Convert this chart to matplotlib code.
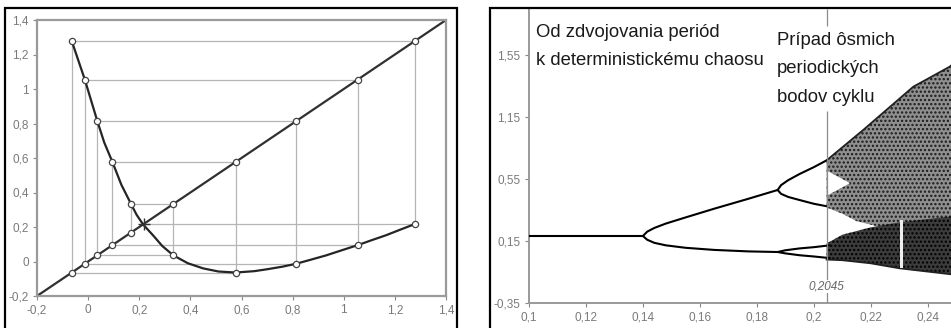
import matplotlib
matplotlib.use("Agg")
import matplotlib.pyplot as plt
from matplotlib.patches import Rectangle

# ---------------- data: left panel (cobweb) ----------------
# orbit of the map
orbit = [0.168, 0.333, 0.036, 0.814, -0.013, 1.055, 0.095, 0.577, -0.064, 1.278, 0.217]
# the map curve (markers + extra points)
curve_x = [-0.064, -0.013, 0.036, 0.063, 0.095, 0.13, 0.168, 0.19, 0.215, 0.255, 0.29, 0.333,
           0.39, 0.45, 0.51, 0.577, 0.65, 0.70, 0.76, 0.814, 0.87, 0.93, 0.99, 1.055, 1.11,
           1.165, 1.22, 1.278]
curve_y = [1.278, 1.055, 0.814, 0.69, 0.577, 0.445, 0.333, 0.27, 0.215, 0.15, 0.09, 0.036,
           -0.01, -0.04, -0.058, -0.064, -0.056, -0.045, -0.03, -0.013, 0.01, 0.035, 0.064,
           0.095, 0.124, 0.152, 0.184, 0.217]
diag = [-0.2, 1.4]
left_ticks = [-0.2, 0, 0.2, 0.4, 0.6, 0.8, 1.0, 1.2, 1.4]
left_labels = ['-0,2', '0', '0,2', '0,4', '0,6', '0,8', '1', '1,2', '1,4']

# ---------------- data: right panel (bifurcation) ----------------
right_xticks = [0.10, 0.12, 0.14, 0.16, 0.18, 0.20, 0.22, 0.24]
right_xlabels = ['0,1', '0,12', '0,14', '0,16', '0,18', '0,2', '0,22', '0,24']
right_yticks = [-0.35, 0.15, 0.65, 1.15, 1.65]
right_ylabels = ['-0,35', '0,15', '0,55', '1,15', '1,55']

branches = [
    ([0.100, 0.140], [0.19, 0.19]),
    ([0.140, 0.1415, 0.144, 0.148, 0.155, 0.165, 0.177, 0.1873],
     [0.19, 0.225, 0.255, 0.29, 0.34, 0.41, 0.49, 0.561]),
    ([0.140, 0.1415, 0.144, 0.148, 0.155, 0.165, 0.177, 0.1873],
     [0.19, 0.16, 0.135, 0.115, 0.095, 0.078, 0.066, 0.061]),
    ([0.1873, 0.1885, 0.191, 0.195, 0.200, 0.2045], [0.561, 0.60, 0.64, 0.69, 0.745, 0.80]),
    ([0.1873, 0.1885, 0.191, 0.195, 0.200, 0.2045], [0.561, 0.53, 0.505, 0.48, 0.45, 0.43]),
    ([0.1873, 0.190, 0.195, 0.200, 0.2056], [0.061, 0.075, 0.09, 0.10, 0.115]),
    ([0.1873, 0.190, 0.195, 0.200, 0.2056], [0.061, 0.05, 0.035, 0.025, 0.012]),
]
# chaotic area outlines
chaos_top_x = [0.2045, 0.2173, 0.2349, 0.2477, 0.26]
chaos_top_y = [0.80, 1.044, 1.393, 1.555, 1.78]
upper_band_bottom_x = [0.2045, 0.210, 0.215, 0.222, 0.26]
upper_band_bottom_y = [0.42, 0.37, 0.31, 0.27, 0.24]
dark_band_x = [0.2045, 0.210, 0.220, 0.230, 0.26]
dark_band_top = [0.13, 0.20, 0.26, 0.30, 0.38]
dark_band_bottom = [0.0, -0.005, -0.03, -0.07, -0.15]
gap_x = [0.2045, 0.2125]
gap_top = [0.72, 0.62]
gap_bottom = [0.52, 0.62]
window_x = [0.2303, 0.2312]
window_y = [-0.07, 0.32]
x_mark = 0.2045
title_lines = ['Od zdvojovania periód', 'k deterministickému chaosu']
title_y = [1.834, 1.608]
note_lines = ['Prípad ôsmich', 'periodických', 'bodov cyklu']
note_y = [1.77, 1.544, 1.31]

W, H = 951, 328
fig = plt.figure(figsize=(W / 100, H / 100), dpi=100)
fig.patch.set_facecolor('white')

tick_font = ['Liberation Sans Narrow', 'Liberation Sans', 'DejaVu Sans']
text_font = ['Liberation Sans', 'DejaVu Sans']
grey = '#7a7a7a'

# black frames around both pictures
fig.patches.append(Rectangle((5 / W, -0.1), 452 / W, 1.1 - 8 / H, transform=fig.transFigure,
                             fill=False, edgecolor='black', lw=1.6))
fig.patches.append(Rectangle((490 / W, -0.1), 0.6, 1.1 - 8 / H, transform=fig.transFigure,
                             fill=False, edgecolor='black', lw=1.6))

# ---- left: cobweb ----
ax1 = fig.add_axes([37 / W, 32 / H, 409 / W, 276 / H])
cx, cy = [orbit[0]], [orbit[0]]
for a, b in zip(orbit[:-1], orbit[1:]):
    cx += [a, b]
    cy += [b, b]
ax1.plot(cx, cy, color='#b5b5b5', lw=0.9, zorder=1)
ax1.plot(diag, diag, color='#303030', lw=1.6, zorder=2)
ax1.plot(curve_x, curve_y, color='#252525', lw=1.6, zorder=2)
ax1.plot(orbit[:-1], orbit[1:], 'o', ms=4.5, mfc='white', mec='#444444', mew=0.9, zorder=3)
ax1.plot(orbit[:-1], orbit[:-1], 'o', ms=4.5, mfc='white', mec='#444444', mew=0.9, zorder=3)
ax1.plot([orbit[-1]], [orbit[-1]], '+', ms=8, color='#333333', mew=1.0, zorder=3)
ax1.set_xlim(-0.2, 1.4)
ax1.set_ylim(-0.2, 1.4)
ax1.set_xticks(left_ticks)
ax1.set_xticklabels(left_labels)
ax1.set_yticks(left_ticks)
ax1.set_yticklabels(left_labels)
for s in ax1.spines.values():
    s.set_color('#9a9a9a')
    s.set_linewidth(1.6)

# ---- right: bifurcation diagram ----
ax2 = fig.add_axes([529 / W, 25 / H, 455.7 / W, 294 / H])
ax2.set_xlim(0.10, 0.26)
ax2.set_ylim(-0.35, 2.02)
plt.rcParams['hatch.linewidth'] = 1.1

top_poly_x = chaos_top_x + upper_band_bottom_x[::-1]
top_poly_y = chaos_top_y + upper_band_bottom_y[::-1]
ax2.fill(top_poly_x, top_poly_y, facecolor='#8f8f8f', edgecolor='#1a1a1a',
         hatch='....', lw=0, zorder=1)
ax2.plot(chaos_top_x, chaos_top_y, color='#202020', lw=1.3, zorder=2)
ax2.fill(dark_band_x + dark_band_x[::-1], dark_band_top + dark_band_bottom[::-1],
         facecolor='#3c3c3c', edgecolor='black', hatch='....', lw=0, zorder=2)
ax2.plot(dark_band_x, dark_band_bottom, color='#202020', lw=1.3, zorder=2)
ax2.fill_between(gap_x, gap_bottom, gap_top, color='white', lw=0, zorder=3)
ax2.fill_between(window_x, window_y[0], window_y[1], color='#eeeeee', lw=0, zorder=3)

for bx, by in branches:
    ax2.plot(bx, by, color='black', lw=1.5, zorder=4, solid_capstyle='round')

# marker line, interrupted behind the note text
ax2.vlines(x_mark, -0.35, 1.2, color='#8a8a8a', lw=0.9, zorder=5)
ax2.vlines(x_mark, 1.88, 2.02, color='#8a8a8a', lw=0.9, zorder=5)
ax2.text(x_mark, -0.215, '0,2045', ha='center', va='center', style='italic', fontsize=8.5,
         color='#666666', family=tick_font, zorder=6,
         bbox=dict(facecolor='white', edgecolor='none', pad=0.5))
for line, yy in zip(title_lines, title_y):
    ax2.text(0.1025, yy, line, ha='left', va='center', fontsize=13.3, color='#1a1a1a',
             family=text_font, zorder=6)
for line, yy in zip(note_lines, note_y):
    ax2.text(0.1871, yy, line, ha='left', va='center', fontsize=13.3, color='#1a1a1a',
             family=text_font, zorder=6)

ax2.set_xticks(right_xticks)
ax2.set_xticklabels(right_xlabels)
ax2.set_yticks(right_yticks)
ax2.set_yticklabels(right_ylabels)
for side in ['top', 'right']:
    ax2.spines[side].set_visible(False)
for side in ['left', 'bottom']:
    ax2.spines[side].set_color('#9a9a9a')
    ax2.spines[side].set_linewidth(1.4)

for ax in (ax1, ax2):
    ax.tick_params(direction='out', length=3, width=0.8, color='#888888',
                   labelcolor=grey, labelsize=8.5, pad=3)
    for lab in ax.get_xticklabels() + ax.get_yticklabels():
        lab.set_family(tick_font)

fig.savefig('out.png', dpi=100, facecolor='white')
